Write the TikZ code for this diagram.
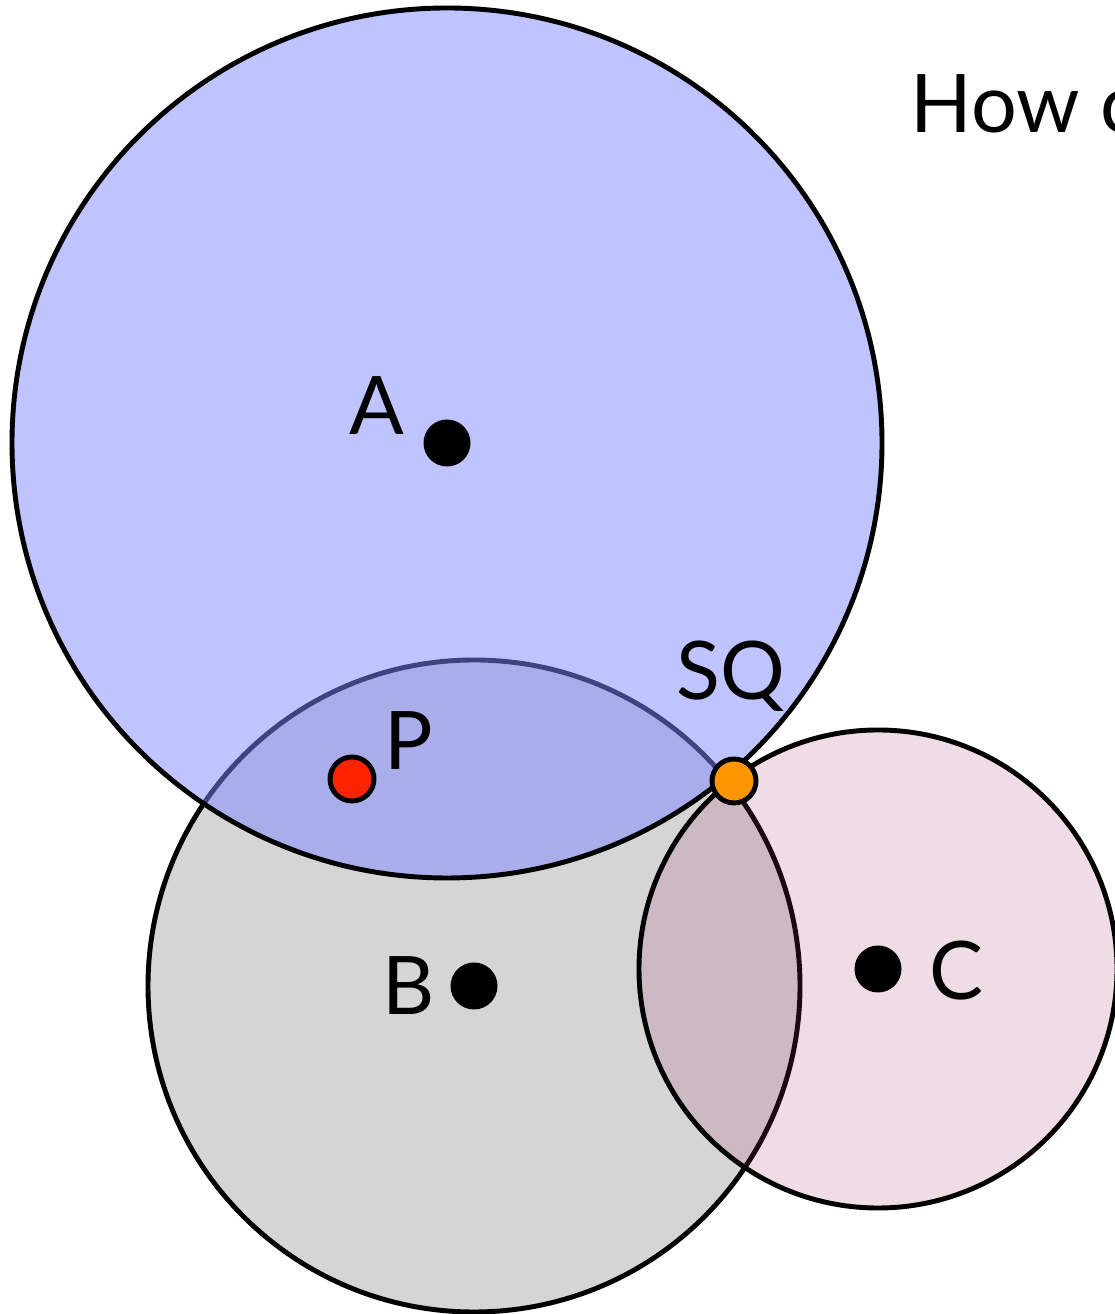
\documentclass[tikz,border=0pt]{standalone}
\usepackage{fontspec}
\setmainfont{Lato}
\definecolor{regionA}{RGB}{127,137,255}
\definecolor{regionB}{RGB}{213,213,213}
\definecolor{regionC}{RGB}{161,49,96}
\definecolor{pointP}{RGB}{255,36,0}
\definecolor{pointSQ}{RGB}{255,150,0}

\begin{document}
\begin{tikzpicture}[line width=1.4pt,
    every node/.style={font=\fontsize{23}{27}\selectfont},
    site/.style={circle, fill=black, inner sep=0pt, minimum size=0.47cm},
    query/.style={circle, draw=black, line width=1.4pt, inner sep=0pt, minimum size=0.44cm}]
  \useasboundingbox (0,0) rectangle (11.14,13.14);
  % regions
  \draw[fill=regionB] (4.74,3.28) circle (3.26);
  \draw[fill=regionC, fill opacity=0.17] (8.78,3.45) circle (2.39);
  \draw[fill=regionA, fill opacity=0.5] (4.47,8.71) circle (4.35);
  % sites
  \node[site] (sa) at (4.47,8.71) {};
  \node[site] (sb) at (4.74,3.28) {};
  \node[site] (sc) at (8.78,3.45) {};
  \node[anchor=base] (la) at (3.77,8.79) {A};
  \node[anchor=base] (lb) at (4.09,2.99) {B};
  \node[anchor=base] (lc) at (9.56,3.14) {C};
  % query points
  \node[query, fill=pointP] (p) at (3.52,5.35) {};
  \node[query, fill=pointSQ] (sq) at (7.34,5.33) {};
  \node[anchor=base] (lp) at (4.09,5.44) {P};
  \node[anchor=base] (lsq) at (7.31,6.14) {SQ};
  \node[anchor=base west, inner sep=0pt] (title) at (9.08,11.81) {How can};
\end{tikzpicture}
\end{document}
